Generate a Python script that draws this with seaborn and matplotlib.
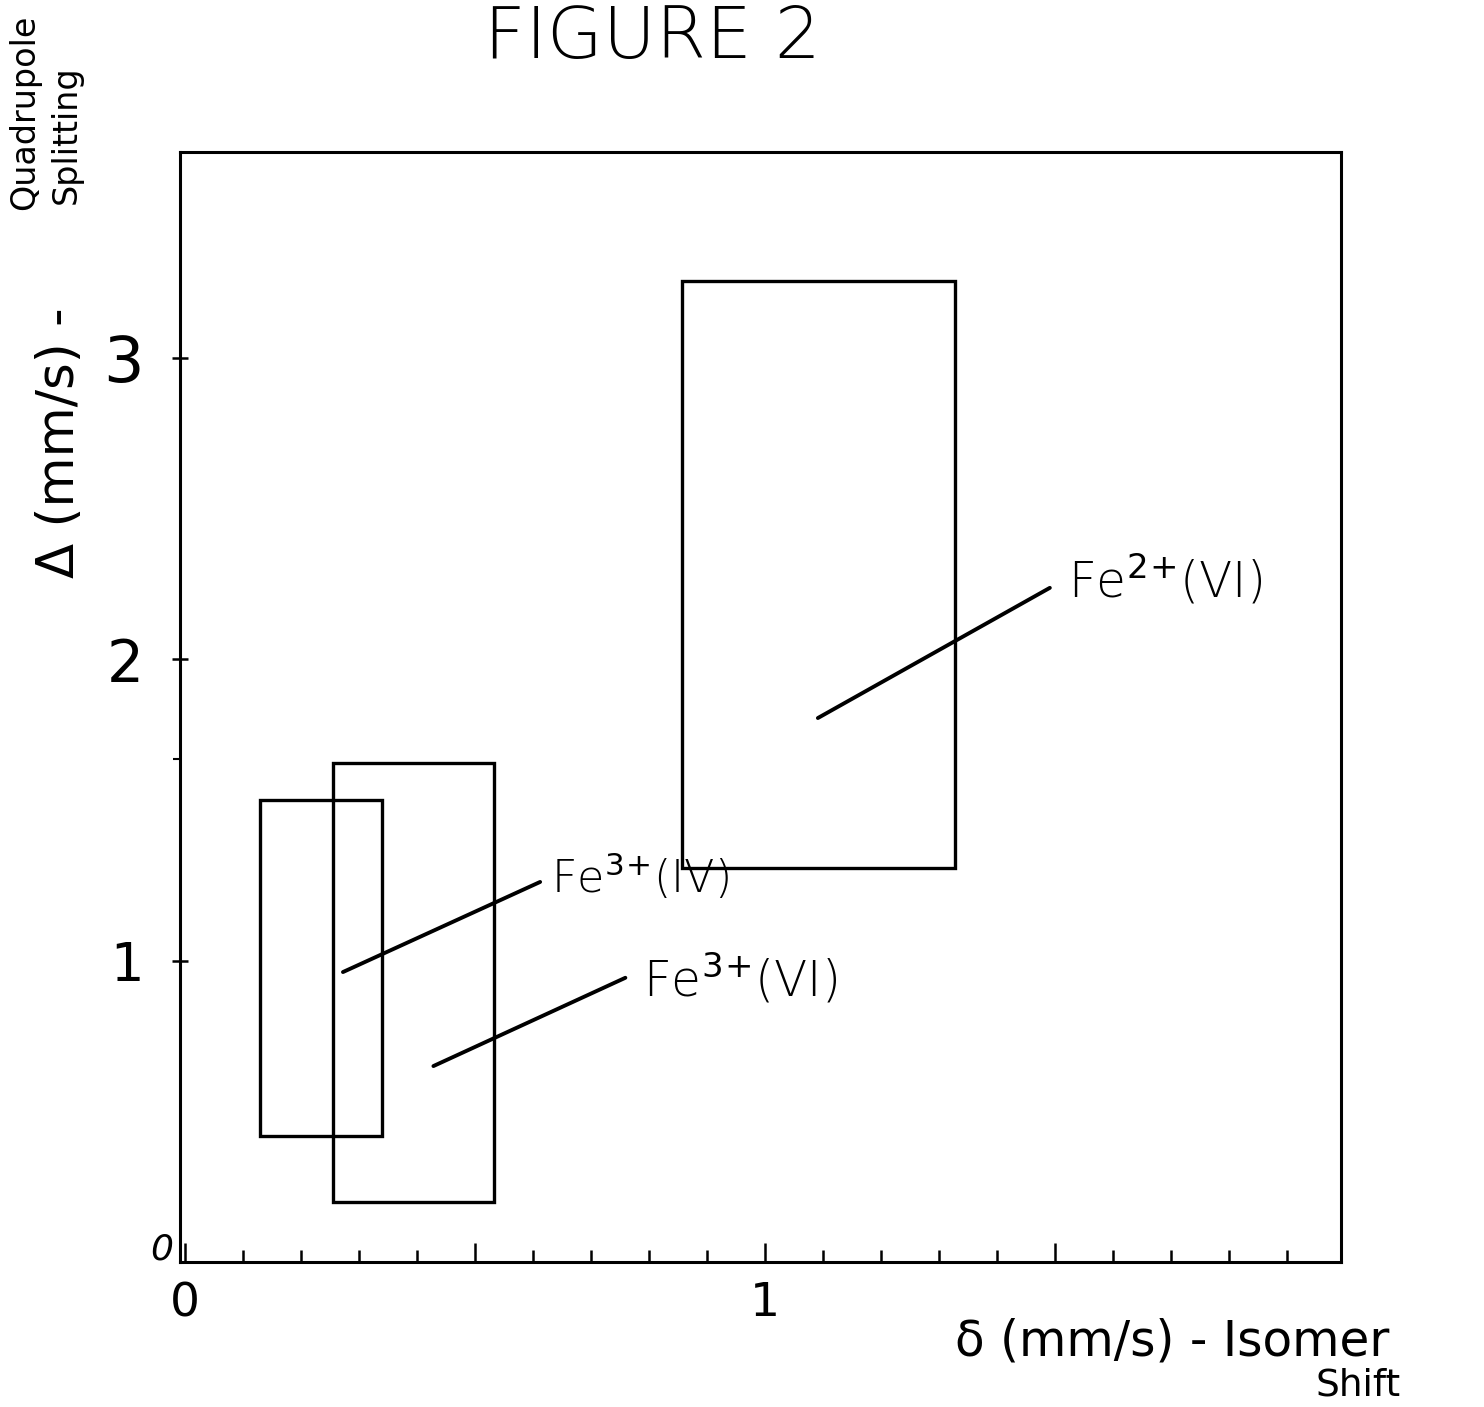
import matplotlib
matplotlib.use("Agg")
import matplotlib.pyplot as plt
import seaborn as sns
from matplotlib.patches import Rectangle

# ---------------- data ----------------
site_labels = ["Fe$^{3}$$^{+}$(IV)", "Fe$^{3}$$^{+}$(VI)", "Fe$^{2}$$^{+}$(VI)"]
# isomer shift (x) and quadrupole splitting (y) ranges of each box
box_x0 = [0.129, 0.255, 0.857]
box_x1 = [0.340, 0.533, 1.328]
box_y0 = [0.418, 0.199, 1.308]
box_y1 = [1.533, 1.656, 3.256]
# leader lines (start inside box -> end at label)
lead_x0 = [0.272, 0.428, 1.091]
lead_y0 = [0.962, 0.650, 1.805]
lead_x1 = [0.612, 0.759, 1.491]
lead_y1 = [1.261, 0.943, 2.237]
# label anchor points
lab_x = [0.631, 0.790, 1.522]
lab_y = [1.225, 0.880, 2.204]

x_major = [0.0, 0.5, 1.0, 1.5]
x_major_labels = ["0", "", "1", ""]
x_minor = [0.1, 0.2, 0.3, 0.4, 0.6, 0.7, 0.8, 0.9,
           1.1, 1.2, 1.3, 1.4, 1.6, 1.7, 1.8, 1.9]
y_major = [1, 2, 3]
y_major_labels = ["1", "2", "3"]
y_minor = [1.67]

# ---------------- styling ----------------
sns.set_theme(style="white")
plt.rcParams["font.family"] = ["DejaVu Sans"]
plt.rcParams["mathtext.fontset"] = "dejavusans"
for key in ["text.color", "axes.labelcolor", "xtick.color", "ytick.color"]:
    plt.rcParams[key] = "black"

fig = plt.figure(figsize=(14.84, 14.07), dpi=100)
fig.patch.set_facecolor("white")
ax = fig.add_axes([0.1213, 0.1031, 0.7823, 0.789])
ax.set_facecolor("white")

ax.set_xlim(-0.009, 1.993)
ax.set_ylim(0, 3.684)

for s in ax.spines.values():
    s.set_visible(True)
    s.set_color("black")
    s.set_linewidth(2.2)

# boxes
for x0, x1, y0, y1 in zip(box_x0, box_x1, box_y0, box_y1):
    ax.add_patch(Rectangle((x0, y0), x1 - x0, y1 - y0, fill=False,
                           edgecolor="black", linewidth=2.4))

# leader lines
for xa, ya, xb, yb in zip(lead_x0, lead_y0, lead_x1, lead_y1):
    sns.lineplot(x=[xa, xb], y=[ya, yb], ax=ax, color="black",
                 linewidth=2.8, sort=False, estimator=None)

# labels
sizes = [32, 35, 35]
for t, x, y, fs in zip(site_labels, lab_x, lab_y, sizes):
    ax.text(x, y, t, fontsize=fs, ha="left", va="baseline",
            color="black", fontweight="light")

# ticks
ax.set_xticks(x_major)
ax.set_xticklabels(x_major_labels, fontsize=34, color="black")
ax.set_xticks(x_minor, minor=True)
ax.tick_params(axis="x", which="major", direction="in", length=14,
               width=1.8, color="black", labelcolor="black", pad=14,
               bottom=True)
ax.tick_params(axis="x", which="minor", direction="in", length=9,
               width=1.8, color="black", bottom=True)

ax.set_yticks(y_major)
ax.set_yticklabels(y_major_labels, color="black")
ax.set_yticks(y_minor, minor=True)
ax.tick_params(axis="y", which="major", direction="inout", length=12,
               width=1.8, color="black", labelcolor="black", pad=20,
               left=True)
ax.tick_params(axis="y", which="minor", direction="out", length=5,
               width=1.5, color="black", left=True)
ysz = [38, 42, 46]
for lab, fs in zip(ax.get_yticklabels(), ysz):
    lab.set_fontsize(fs)

# origin "0" on the y axis
ax.text(-0.02, 0.04, "0", fontsize=26, ha="right", va="center",
        color="black", style="italic")

# axis titles
fig.text(60 / 1484, 1 - 443 / 1407, "Δ (mm/s) -", rotation=90,
         fontsize=37, ha="center", va="center", color="black")
fig.text(25 / 1484, 1 - 112 / 1407, "Quadrupole", rotation=90,
         fontsize=24, ha="center", va="center", color="black")
fig.text(66 / 1484, 1 - 135 / 1407, "Splitting", rotation=90,
         fontsize=24, ha="center", va="center", color="black")

fig.text(955 / 1484, 1 - 1356 / 1407, "δ (mm/s) - Isomer",
         fontsize=35, ha="left", va="baseline", color="black")
fig.text(1358 / 1484, 1 - 1396 / 1407, "Shift",
         fontsize=27, ha="center", va="baseline", color="black")

# figure title
fig.text(652 / 1484, 1 - 58 / 1407, "FIGURE 2", fontsize=52,
         ha="center", va="baseline", color="black", fontweight="light")

fig.savefig("out.png", dpi=100, facecolor="white")
